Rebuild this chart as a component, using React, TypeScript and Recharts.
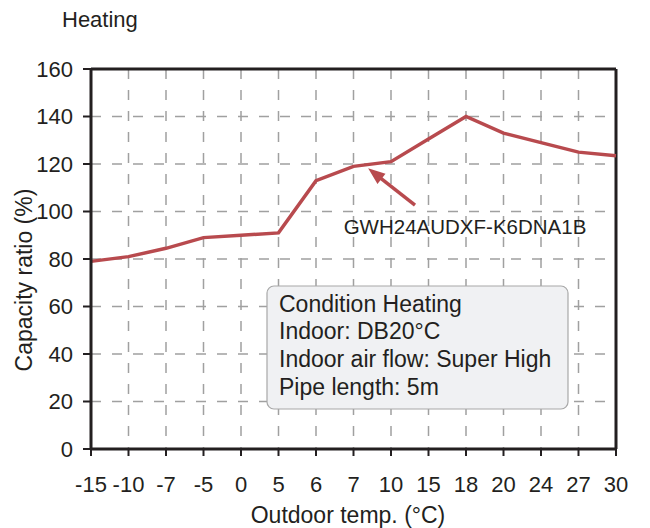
import { LineChart, Line, XAxis, YAxis, CartesianGrid, ReferenceLine } from 'recharts'

const temps = ['-15', '-10', '-7', '-5', '0', '5', '6', '7', '10', '15', '18', '20', '24', '27', '30']
const capacity = [79, 81, 84.5, 89, 90, 91, 113, 119, 121, 130.5, 140, 133, 129, 125, 123.5]
const yTicks = [0, 20, 40, 60, 80, 100, 120, 140, 160]
const conditions = ['Condition Heating', 'Indoor: DB20°C', 'Indoor air flow: Super High', 'Pipe length: 5m']
const model = 'GWH24AUDXF-K6DNA1B'
// arrow from label up to the curve, in data units (x = category index)
const arrowTail = { x: 8.64, y: 102.7 }
const arrowTip = { x: 7.39, y: 118.2 }

const data = temps.map((t, i) => ({ idx: i, temp: t, capacity: capacity[i] }))
const xTicks = temps.map((_, i) => i)

const ink = '#231f20'
const red = '#b84a4e'
const font = '"Liberation Sans", Arial, sans-serif'

function Arrow(p: any) {
  const { x1, y1, x2, y2 } = p
  const dx = x2 - x1
  const dy = y2 - y1
  const len = Math.hypot(dx, dy) || 1
  const ux = dx / len
  const uy = dy / len
  const head = 17
  const half = 6.5
  const bx = x2 - ux * head
  const by = y2 - uy * head
  const pts = `${x2},${y2} ${bx - uy * half},${by + ux * half} ${bx + uy * half},${by - ux * half}`
  return (
    <g>
      <line x1={x1} y1={y1} x2={bx + ux * 2} y2={by + uy * 2} stroke={red} strokeWidth={3.5} />
      <polygon points={pts} fill={red} />
    </g>
  )
}

function Notes() {
  return (
    <g fontFamily={font} fill={ink}>
      <text x={62} y={27} fontSize={22}>Heating</text>
      <text x={465} y={234} fontSize={20.5} textAnchor="middle">{model}</text>
      <rect x={267} y={286} width={301} height={123} rx={7} fill="#f0f1f3" stroke="#a8a8a8" strokeWidth={1.2} />
      {conditions.map((c, i) => (
        <text key={c} x={279} y={311.5 + i * 27.8} fontSize={23}>{c}</text>
      ))}
      <text
        x={24}
        y={280}
        fontSize={23}
        textAnchor="middle"
        dominantBaseline="central"
        transform="rotate(-90 24 280)"
      >
        Capacity ratio (%)
      </text>
      <text x={348} y={523} fontSize={23} textAnchor="middle">Outdoor temp. (°C)</text>
    </g>
  )
}

export default function App() {
  return (
    <div style={{ position: 'absolute', left: 0, top: 0, width: 650, height: 528, background: '#fff', fontFamily: font }}>
      <LineChart width={650} height={528} data={data} margin={{ top: 69, right: 34, left: 0, bottom: 0 }}>
        <CartesianGrid stroke="#a0a0a0" strokeWidth={1.5} strokeDasharray="10 11" />
        <XAxis
          dataKey="idx"
          type="number"
          domain={[0, 14]}
          ticks={xTicks}
          tickFormatter={(i) => temps[i]}
          interval={0}
          height={79}
          stroke={ink}
          strokeWidth={3}
          tickSize={7}
          tickMargin={20}
          tick={{ fill: ink, fontSize: 22, fontFamily: font }}
          tickLine={{ stroke: ink, strokeWidth: 2 }}
        />
        <YAxis
          domain={[0, 160]}
          ticks={yTicks}
          interval={0}
          width={91}
          stroke={ink}
          strokeWidth={3}
          tickSize={8}
          tickMargin={10}
          tick={{ fill: ink, fontSize: 22, fontFamily: font }}
          tickLine={{ stroke: ink, strokeWidth: 2 }}
        />
        <ReferenceLine y={160} stroke={ink} strokeWidth={3} />
        <ReferenceLine x={14} stroke={ink} strokeWidth={3} />
        <Line
          type="linear"
          dataKey="capacity"
          stroke={red}
          strokeWidth={3.5}
          dot={false}
          isAnimationActive={false}
        />
        <ReferenceLine segment={[arrowTail, arrowTip]} shape={Arrow} />
        <Notes />
      </LineChart>
    </div>
  )
}
